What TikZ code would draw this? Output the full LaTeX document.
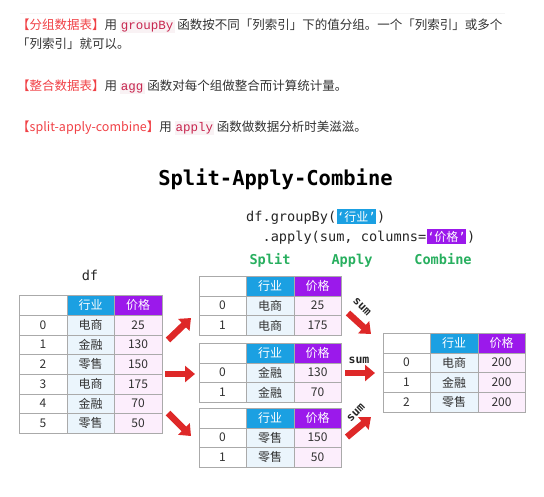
\documentclass[tikz,border=0pt]{standalone}
\usepackage{fontspec}
\usepackage{tikz}
\usetikzlibrary{arrows.meta,positioning}
\newfontfamily\cjk{Noto Sans CJK SC}
\newfontfamily\codefont{DejaVu Sans Mono}
\newfontfamily\snipfont{Liberation Mono}
\setmainfont{Noto Sans CJK SC}
\definecolor{bodytxt}{RGB}{50,50,50}
\definecolor{redtxt}{RGB}{240,65,70}
\definecolor{codered}{RGB}{199,37,78}
\definecolor{codebg}{RGB}{249,242,244}
\definecolor{hdblue}{RGB}{27,160,226}
\definecolor{hdpurple}{RGB}{155,25,235}
\definecolor{cellblue}{RGB}{235,245,252}
\definecolor{cellpink}{RGB}{252,238,252}
\definecolor{gridgray}{RGB}{170,170,170}
\definecolor{arrowred}{RGB}{222,40,40}
\definecolor{stepgreen}{RGB}{40,175,95}
\newcommand{\snip}[1]{{\setlength\fboxsep{1pt}\colorbox{codebg}{\snipfont\color{codered}#1}}}
\begin{document}
\begin{tikzpicture}[x=1pt,y=-1pt]
		\tikzstyle{cell}=[draw=gridgray,minimum width=47.5pt,minimum height=19.7pt,inner sep=0pt,text=bodytxt,font=\cjk\fontsize{12}{14}\selectfont]
		\tikzstyle{blank}=[cell,fill=white]
		\tikzstyle{hind}=[cell,fill=hdblue,text=white]
		\tikzstyle{hprice}=[cell,fill=hdpurple,text=white]
		\tikzstyle{ind}=[cell,fill=cellblue]
		\tikzstyle{price}=[cell,fill=cellpink]
		\tikzstyle{para}=[anchor=base west,inner sep=0pt,text=bodytxt,font=\cjk\fontsize{12.5}{15}\selectfont]
		\tikzstyle{code}=[inner sep=0pt,text=black!85,font=\codefont\fontsize{13.6}{16}\selectfont]
		\tikzstyle{stage}=[anchor=base,inner sep=0pt,text=stepgreen,font=\codefont\bfseries\fontsize{13.6}{16}\selectfont]
		\tikzstyle{keybox}=[inner xsep=0.5pt,inner ysep=2pt,text=white,font=\fontsize{12}{14}\selectfont]
		\tikzstyle{bigarrow}=[draw=arrowred,line width=6.5pt,-{Triangle[length=10pt,width=16pt]}]
		\tikzstyle{sumlabel}=[inner sep=0pt,text=black!85,font=\codefont\bfseries\fontsize{11.5}{13}\selectfont]

		\useasboundingbox (0,0) rectangle (544,496);
		\draw[gray!8] (20,13) -- (505,13);

		% text above the figure
		\node[para](l1) at (17,29.6){{\color{redtxt}【分组数据表】}用 \snip{groupBy} 函数按不同「列索引」下的值分组。一个「列索引」或多个};
		\node[para](l2) at (17,48.5){「列索引」就可以。};
		\node[para](l3) at (17,90.5){{\color{redtxt}【整合数据表】}用 \snip{agg} 函数对每个组做整合而计算统计量。};
		\node[para](l4) at (17,131){{\color{redtxt}【split-apply-combine】}用 \snip{apply} 函数做数据分析时美滋滋。};

		% title and code
		\node[anchor=base,inner sep=0pt,font=\codefont\bfseries\fontsize{20.5}{24}\selectfont](title) at (275.5,185){Split-Apply-Combine};
		\node[code,anchor=base west](grp) at (246,221){df.groupBy(};
		\node[keybox,fill=hdblue,base right=0pt of grp](grpkey){{\codefont‘}行业{\codefont’}};
		\node[code,base right=0.5pt of grpkey](grpend){)};
		\node[code,anchor=base west](app) at (262.4,241){.apply(sum, columns=};
		\node[keybox,fill=hdpurple,base right=0pt of app](appkey){{\codefont‘}价格{\codefont’}};
		\node[code,base right=0.5pt of appkey](append){)};

		\node[stage](split) at (270,264){Split};
		\node[stage](apply) at (352,264){Apply};
		\node[stage](combine) at (443,264){Combine};
		\node[code,anchor=base](dfname) at (90,280){df};

		% df
		\node[blank](dfh0) at (43,305.2){};
		\node[hind](dfh1) at (90.5,305.2){行业};
		\node[hprice](dfh2) at (138,305.2){价格};
		\node[blank](df00) at (43,324.9){0};
		\node[ind](df01) at (90.5,324.9){电商};
		\node[price](df02) at (138,324.9){25};
		\node[blank](df10) at (43,344.6){1};
		\node[ind](df11) at (90.5,344.6){金融};
		\node[price](df12) at (138,344.6){130};
		\node[blank](df20) at (43,364.3){2};
		\node[ind](df21) at (90.5,364.3){零售};
		\node[price](df22) at (138,364.3){150};
		\node[blank](df30) at (43,384){3};
		\node[ind](df31) at (90.5,384){电商};
		\node[price](df32) at (138,384){175};
		\node[blank](df40) at (43,403.7){4};
		\node[ind](df41) at (90.5,403.7){金融};
		\node[price](df42) at (138,403.7){70};
		\node[blank](df50) at (43,423.4){5};
		\node[ind](df51) at (90.5,423.4){零售};
		\node[price](df52) at (138,423.4){50};

		% split groups
		\node[blank](sah0) at (222.5,286){};
		\node[hind](sah1) at (270,286){行业};
		\node[hprice](sah2) at (317.5,286){价格};
		\node[blank](sa00) at (222.5,305.7){0};
		\node[ind](sa01) at (270,305.7){电商};
		\node[price](sa02) at (317.5,305.7){25};
		\node[blank](sa10) at (222.5,325.4){1};
		\node[ind](sa11) at (270,325.4){电商};
		\node[price](sa12) at (317.5,325.4){175};

		\node[blank](sbh0) at (222.5,353){};
		\node[hind](sbh1) at (270,353){行业};
		\node[hprice](sbh2) at (317.5,353){价格};
		\node[blank](sb00) at (222.5,372.7){0};
		\node[ind](sb01) at (270,372.7){金融};
		\node[price](sb02) at (317.5,372.7){130};
		\node[blank](sb10) at (222.5,392.4){1};
		\node[ind](sb11) at (270,392.4){金融};
		\node[price](sb12) at (317.5,392.4){70};

		\node[blank](sch0) at (222.5,418){};
		\node[hind](sch1) at (270,418){行业};
		\node[hprice](sch2) at (317.5,418){价格};
		\node[blank](sc00) at (222.5,437.7){0};
		\node[ind](sc01) at (270,437.7){零售};
		\node[price](sc02) at (317.5,437.7){150};
		\node[blank](sc10) at (222.5,457.4){1};
		\node[ind](sc11) at (270,457.4){零售};
		\node[price](sc12) at (317.5,457.4){50};

		% combined
		\node[blank](cbh0) at (406.5,343){};
		\node[hind](cbh1) at (454,343){行业};
		\node[hprice](cbh2) at (501.5,343){价格};
		\node[blank](cb00) at (406.5,362.7){0};
		\node[ind](cb01) at (454,362.7){电商};
		\node[price](cb02) at (501.5,362.7){200};
		\node[blank](cb10) at (406.5,382.4){1};
		\node[ind](cb11) at (454,382.4){金融};
		\node[price](cb12) at (501.5,382.4){200};
		\node[blank](cb20) at (406.5,402.1){2};
		\node[ind](cb21) at (454,402.1){零售};
		\node[price](cb22) at (501.5,402.1){200};

		% arrows
		\coordinate (a1s) at (168,340);
		\coordinate (a1e) at (191,318);
		\coordinate (a2s) at (165,374);
		\coordinate (a2e) at (195,374);
		\coordinate (a3s) at (168,413);
		\coordinate (a3e) at (191,436);
		\coordinate (b1s) at (348,313);
		\coordinate (b1e) at (371,334);
		\coordinate (b2s) at (345,373);
		\coordinate (b2e) at (375,373);
		\coordinate (b3s) at (347,437);
		\coordinate (b3e) at (371,417);

		\draw[bigarrow] (a1s) -- (a1e);
		\draw[bigarrow] (a2s) -- (a2e);
		\draw[bigarrow] (a3s) -- (a3e);
		\draw[bigarrow] (b1s) -- (b1e);
		\draw[bigarrow] (b2s) -- (b2e);
		\draw[bigarrow] (b3s) -- (b3e);

		\node[sumlabel,rotate=-45](sum1) at (362,307){sum};
		\node[sumlabel](sum2) at (359,360){sum};
		\node[sumlabel,rotate=45](sum3) at (356,413){sum};
	\end{tikzpicture}
\end{document}
